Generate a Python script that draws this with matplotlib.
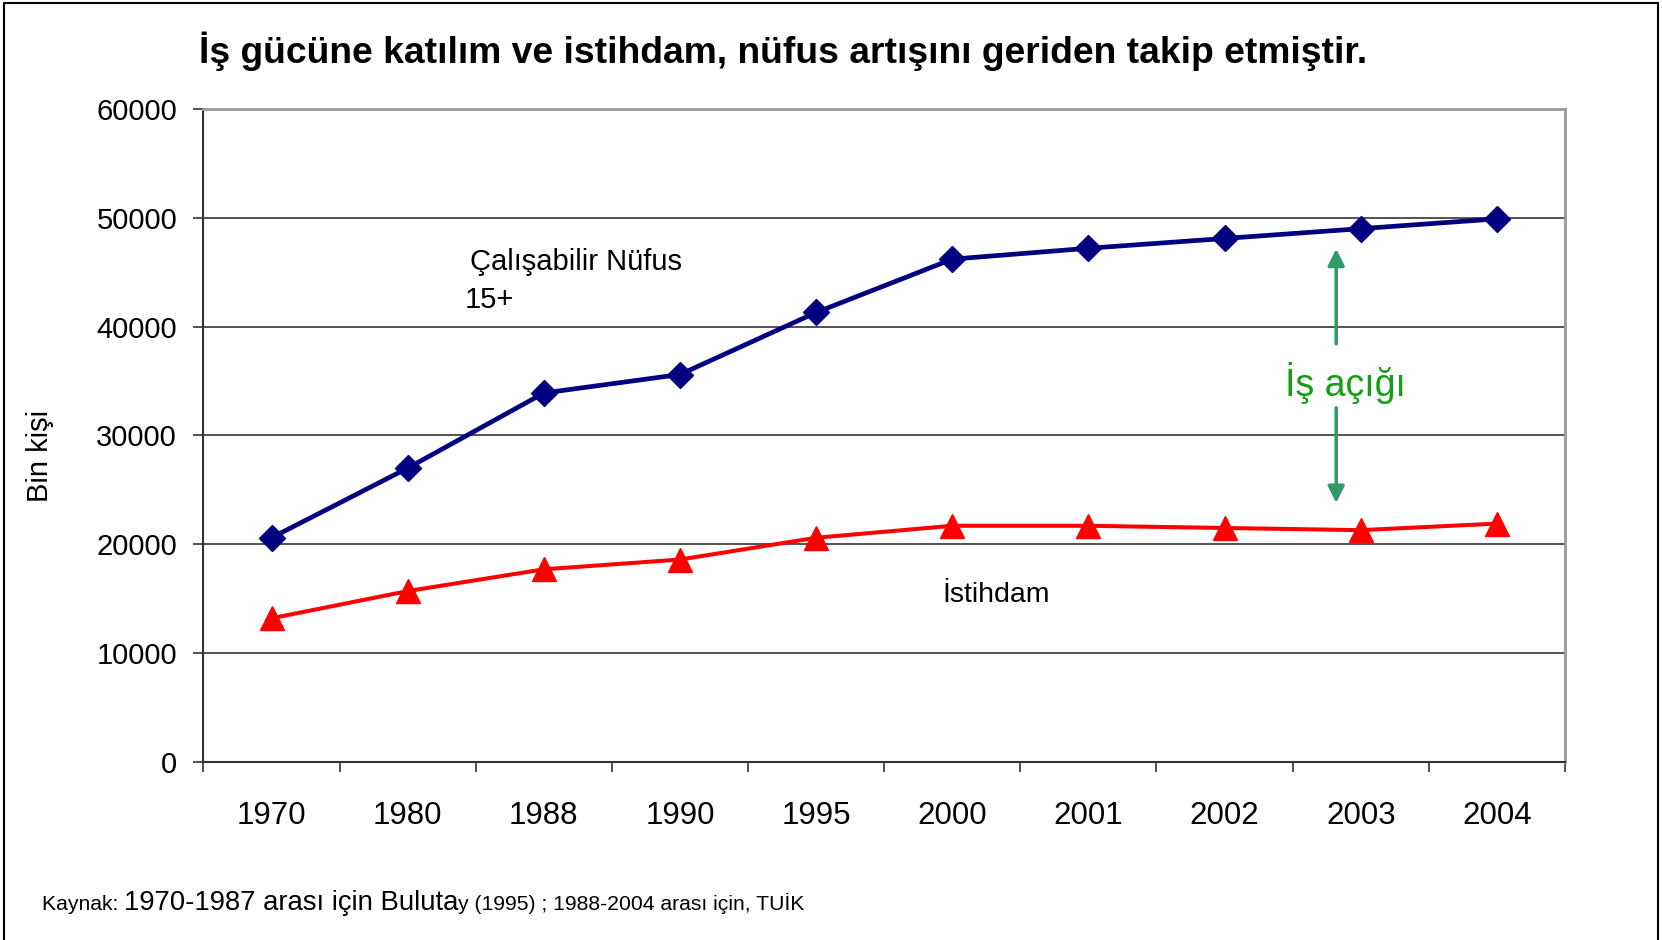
import numpy as np
import matplotlib.pyplot as plt
from matplotlib.patches import Rectangle

plt.rcParams['font.family'] = ['Liberation Sans', 'DejaVu Sans']

years = ['1970', '1980', '1988', '1990', '1995', '2000', '2001', '2002', '2003', '2004']
calisabilir = [20600, 27000, 33900, 35600, 41300, 46200, 47200, 48100, 49000, 49900]
istihdam = [13200, 15700, 17700, 18600, 20600, 21700, 21700, 21500, 21300, 21900]
yticks = [0, 10000, 20000, 30000, 40000, 50000, 60000]

fig = plt.figure(figsize=(16.62, 9.40), dpi=100)
ax = fig.add_axes([0.1224, 0.1894, 0.8192, 0.6947])

x = np.arange(len(years))
ax.plot(x, calisabilir, color='#000080', lw=3.4, marker='D', ms=13.5,
        mec='#000080', zorder=4)
ax.plot(x, istihdam, color='#ff0000', lw=2.9, marker='^', ms=17,
        mec='#ff0000', zorder=4)

ax.set_xlim(-0.5, len(years) - 0.5)
ax.set_ylim(0, 60000)
ax.set_yticks(yticks)
ax.set_yticklabels([str(v) for v in yticks], fontsize=21)
ax.tick_params(axis='y', direction='out', length=7, width=1.2, color='#333333', pad=12)

# ticks between categories, labels at the centres
ax.set_xticks(np.arange(-0.5, len(years), 1.0))
ax.set_xticklabels([])
ax.set_xticks(x, minor=True)
ax.set_xticklabels(years, minor=True, fontsize=22.5)
ax.tick_params(axis='x', which='major', direction='out', length=7, width=1.2, color='#333333')
ax.tick_params(axis='x', which='minor', length=0, pad=28)

for v in yticks[1:-1]:
    ax.axhline(v, color='#444444', lw=1.3, zorder=1)

ax.spines['left'].set_color('#333333')
ax.spines['bottom'].set_color('#333333')
ax.spines['left'].set_linewidth(1.5)
ax.spines['bottom'].set_linewidth(1.5)
ax.spines['top'].set_color('#999999')
ax.spines['right'].set_color('#999999')
ax.spines['top'].set_linewidth(2)
ax.spines['right'].set_linewidth(2)

ax.set_ylabel('Bin kişi', fontsize=21)
ax.yaxis.set_label_coords(-0.110, 0.469)

ax.text(1.46, 45950, 'Çalışabilir Nüfus', fontsize=21, ha='left', va='center')
ax.text(1.42, 42460, '15+', fontsize=21, ha='left', va='center')
ax.text(5.32, 15350, 'İstihdam', fontsize=20.5, ha='center', va='center')
ax.text(7.89, 34830, 'İş açığı', fontsize=27, color='#12a012', ha='center', va='center')

arrow_col = '#339966'
ax.annotate('', xy=(7.82, 47150), xytext=(7.82, 38420),
            arrowprops=dict(arrowstyle='-|>', color=arrow_col, lw=2.5, mutation_scale=25,
                            shrinkA=0, shrinkB=0))
ax.annotate('', xy=(7.82, 23800), xytext=(7.82, 32540),
            arrowprops=dict(arrowstyle='-|>', color=arrow_col, lw=2.5, mutation_scale=25,
                            shrinkA=0, shrinkB=0))

fig.text(199 / 1662, 1 - 51 / 940,
         'İş gücüne katılım ve istihdam, nüfus artışını geriden takip etmiştir.',
         fontsize=26.8, fontweight='bold', ha='left', va='center')

# source line with mixed font sizes
renderer = fig.canvas.get_renderer()
parts = [('Kaynak: ', 15.2), ('1970-1987 arası için Buluta', 19.8),
         ('y (1995) ; 1988-2004 arası için, TUİK', 15.2)]
xpos = 42 / 1662
ybase = 1 - 910 / 940
for s, fs in parts:
    t = fig.text(xpos, ybase, s, fontsize=fs, ha='left', va='baseline')
    bb = t.get_window_extent(renderer)
    xpos = bb.x1 / fig.bbox.width

fig.patches.append(Rectangle((4 / 1662, -0.02), 1654 / 1662, 1.02 - 3 / 940,
                             transform=fig.transFigure, fill=False,
                             edgecolor='black', lw=1.5))

fig.savefig('out.png', dpi=100)
